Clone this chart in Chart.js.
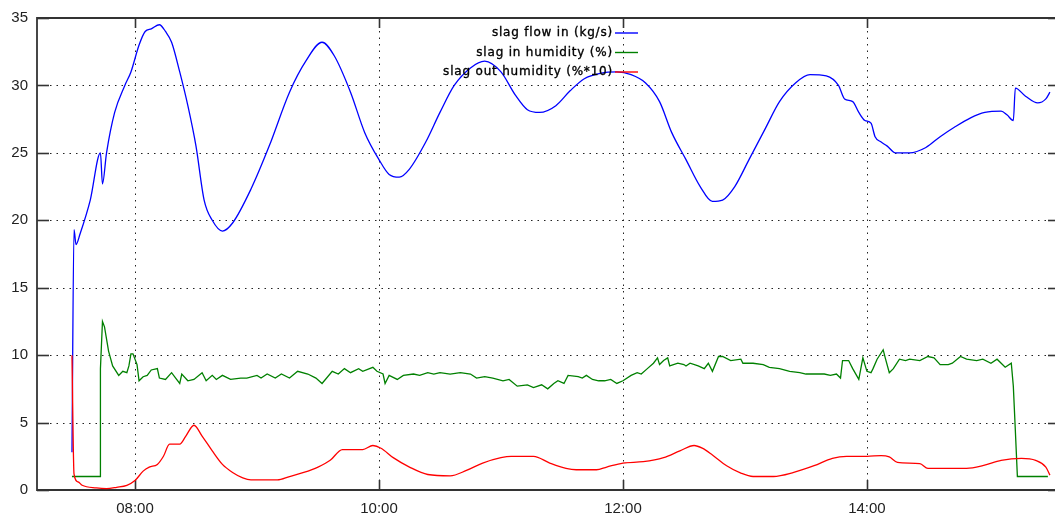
<!DOCTYPE html>
<html>
<head>
<meta charset="utf-8">
<script src="https://cdn.jsdelivr.net/npm/chart.js@4.4.1/dist/chart.umd.min.js"></script>
<style>
  html, body { margin: 0; padding: 0; background: #fff; }
  #wrap { width: 1055px; height: 515px; }
</style>
</head>
<body>
<div id="wrap"><canvas id="chart"></canvas></div>
<script>
// time axis (minutes since midnight) and y range
const xStart = 431.8;
const xEnd = 932.5;
const xTickTimes = ['08:00', '10:00', '12:00', '14:00'];

const seriesLabels = ['slag flow in (kg/s)', 'slag in humidity (%)', 'slag out humidity (%*10)'];
const seriesColors = ['#0000ff', '#008000', '#ff0000'];

const blueTimes = ['07:29','07:30','07:31','07:33','07:38','07:43','07:44','07:46','07:50','07:55',
  '07:58','08:02','08:05','08:08','08:12','08:15','08:18','08:22','08:26','08:30',
  '08:34','08:38','08:43','08:48','08:57','09:06','09:16','09:24','09:32','09:38',
  '09:46','09:53','10:00','10:05','10:10','10:15','10:23','10:30','10:37','10:45',
  '10:52','11:00','11:07','11:13','11:19','11:27','11:34','11:41','11:49','11:57',
  '12:04','12:11','12:18','12:24','12:31','12:38','12:44','12:49','12:55','13:02',
  '13:10','13:17','13:25','13:32','13:40','13:46','13:49','13:53','13:56','13:59',
  '14:02','14:04','14:07','14:10','14:14','14:21','14:29','14:36','14:43','14:51',
  '14:58','15:06','15:09','15:12','15:13','15:18','15:24','15:28','15:30'];
const blueValues = [2.8,19.3,18.2,19.0,21.5,25.0,22.7,25.0,28.0,30.0,
  31.0,33.0,34.0,34.2,34.5,34.0,33.2,31.0,28.5,25.5,
  21.5,20.0,19.2,19.8,22.3,25.5,29.5,31.8,33.2,32.2,
  29.5,26.5,24.5,23.4,23.2,23.8,25.8,28.0,30.0,31.3,
  31.8,31.0,29.3,28.2,28.0,28.5,29.6,30.5,30.9,31.0,
  30.8,30.2,28.8,26.5,24.5,22.5,21.4,21.5,22.5,24.5,
  26.8,28.8,30.2,30.8,30.7,30.0,29.0,28.8,28.0,27.4,
  27.2,26.2,25.8,25.5,25.0,25.0,25.4,26.2,26.9,27.6,
  28.0,28.1,27.8,27.4,29.8,29.2,28.7,29.0,29.5];

const greenTimes = ['07:29','07:43','07:43','07:44','07:45','07:47','07:49','07:52','07:54','07:56',
  '07:57','07:58','07:59','08:01','08:02','08:04','08:06','08:08','08:11','08:12',
  '08:15','08:18','08:20','08:22','08:23','08:26','08:29','08:33','08:35','08:38',
  '08:40','08:43','08:47','08:52','08:55','09:00','09:02','09:05','09:09','09:12',
  '09:16','09:20','09:25','09:29','09:32','09:37','09:40','09:43','09:46','09:50',
  '09:52','09:57','09:59','10:02','10:03','10:05','10:09','10:12','10:17','10:20',
  '10:24','10:27','10:30','10:35','10:40','10:45','10:48','10:52','10:56','11:01',
  '11:04','11:08','11:13','11:16','11:20','11:23','11:26','11:28','11:31','11:33',
  '11:38','11:40','11:42','11:45','11:48','11:51','11:54','11:57','12:00','12:04',
  '12:07','12:09','12:12','12:15','12:17','12:18','12:20','12:22','12:23','12:27',
  '12:30','12:31','12:33','12:37','12:40','12:42','12:44','12:47','12:49','12:53',
  '12:58','12:59','13:04','13:09','13:12','13:17','13:22','13:27','13:30','13:34',
  '13:39','13:42','13:45','13:47','13:48','13:51','13:53','13:56','13:58','14:00',
  '14:02','14:03','14:05','14:08','14:09','14:11','14:13','14:16','14:19','14:21',
  '14:26','14:30','14:33','14:36','14:40','14:42','14:46','14:49','14:54','14:57',
  '15:01','15:04','15:08','15:11','15:12','15:13','15:14','15:29'];
const greenValues = [1.0,1.0,9.0,12.5,12.1,10.3,9.2,8.5,8.8,8.7,
  9.2,10.1,10.1,9.3,8.1,8.4,8.5,8.9,9.0,8.3,
  8.2,8.7,8.3,7.9,8.6,8.1,8.2,8.7,8.1,8.5,
  8.2,8.5,8.2,8.3,8.3,8.5,8.3,8.6,8.3,8.6,
  8.3,8.8,8.6,8.3,7.9,8.8,8.6,9.0,8.7,9.0,
  8.8,9.1,8.8,8.6,7.9,8.5,8.2,8.5,8.6,8.5,
  8.7,8.6,8.7,8.6,8.7,8.6,8.3,8.4,8.3,8.1,
  8.2,7.7,7.8,7.6,7.8,7.5,7.9,8.1,7.9,8.5,
  8.4,8.3,8.5,8.2,8.1,8.1,8.2,7.9,8.1,8.5,
  8.7,8.6,9.0,9.4,9.8,9.3,9.6,9.8,9.2,9.4,
  9.3,9.2,9.4,9.2,9.0,9.4,8.8,9.9,9.9,9.6,
  9.7,9.4,9.4,9.3,9.1,9.0,8.8,8.7,8.6,8.6,
  8.6,8.5,8.6,8.3,9.6,9.6,9.0,8.2,9.8,8.8,
  8.7,9.0,9.7,10.4,9.8,8.7,9.0,9.7,9.6,9.7,
  9.6,9.9,9.8,9.3,9.3,9.4,9.9,9.7,9.6,9.7,
  9.4,9.7,9.1,9.4,7.7,4.4,1.0,1.0];

const redTimes = ['07:29','07:30','07:32','07:34','07:41','07:46','07:51','07:56','08:00','08:04',
  '08:07','08:11','08:14','08:17','08:22','08:25','08:29','08:33','08:38','08:43',
  '08:48','08:53','08:57','09:10','09:16','09:23','09:30','09:36','09:42','09:52',
  '09:57','10:01','10:07','10:15','10:24','10:35','10:43','10:51','11:00','11:05',
  '11:16','11:24','11:32','11:37','11:47','11:52','12:00','12:10','12:20','12:28',
  '12:35','12:39','12:44','12:51','12:58','13:04','13:14','13:24','13:34','13:43',
  '13:50','14:00','14:07','14:11','14:15','14:26','14:30','14:49','14:57','15:06',
  '15:16','15:23','15:28','15:30'];
const redValues = [10.0,1.2,0.6,0.35,0.15,0.1,0.2,0.35,0.7,1.4,
  1.7,1.9,2.5,3.4,3.4,4.0,4.8,4.0,2.9,1.9,
  1.3,0.9,0.75,0.75,1.0,1.3,1.7,2.2,3.0,3.0,
  3.3,3.1,2.4,1.7,1.15,1.05,1.45,2.0,2.4,2.5,
  2.5,2.0,1.6,1.5,1.5,1.7,2.0,2.1,2.4,2.9,
  3.3,3.1,2.6,1.8,1.25,1.0,1.0,1.3,1.8,2.35,
  2.5,2.5,2.55,2.45,2.05,1.95,1.6,1.6,1.8,2.2,
  2.35,2.2,1.7,1.1];

const toMin = s => { const [h, m] = s.split(':'); return +h * 60 + +m; };
const fmtTime = v => {
  const h = Math.floor(v / 60), m = Math.round(v % 60);
  return String(h).padStart(2, '0') + ':' + String(m).padStart(2, '0');
};
const zip = (ts, vs) => ts.map((t, i) => ({ x: toMin(t), y: vs[i] }));

// gnuplot-like frame, dotted grid and inward ticks
const framePlugin = {
  id: 'frame',
  beforeDatasetsDraw(chart) {
    const { ctx, chartArea: a, scales: { x, y } } = chart;
    ctx.save();
    ctx.strokeStyle = '#222';
    ctx.lineWidth = 1;
    ctx.setLineDash([1.5, 5]);
    y.ticks.forEach(t => {
      if (t.value <= y.min || t.value >= y.max) return;
      const py = Math.round(y.getPixelForValue(t.value)) + 0.5;
      ctx.beginPath(); ctx.moveTo(a.left, py); ctx.lineTo(a.right, py); ctx.stroke();
    });
    x.ticks.forEach(t => {
      const px = Math.round(x.getPixelForValue(t.value)) + 0.5;
      ctx.beginPath(); ctx.moveTo(px, a.top); ctx.lineTo(px, a.bottom); ctx.stroke();
    });
    ctx.setLineDash([]);
    ctx.strokeStyle = '#333';
    ctx.lineWidth = 1.6;
    y.ticks.forEach(t => {
      const py = Math.round(y.getPixelForValue(t.value)) + 0.5;
      ctx.beginPath(); ctx.moveTo(a.left, py); ctx.lineTo(a.left + 12, py); ctx.stroke();
      ctx.beginPath(); ctx.moveTo(a.right - 7, py); ctx.lineTo(a.right, py); ctx.stroke();
    });
    x.ticks.forEach(t => {
      const px = Math.round(x.getPixelForValue(t.value)) + 0.5;
      ctx.beginPath(); ctx.moveTo(px, a.bottom); ctx.lineTo(px, a.bottom - 10); ctx.stroke();
      ctx.beginPath(); ctx.moveTo(px, a.top); ctx.lineTo(px, a.top + 10); ctx.stroke();
    });
    ctx.lineWidth = 1.8;
    ctx.strokeStyle = '#333';
    ctx.beginPath();
    ctx.moveTo(a.right, a.top);
    ctx.lineTo(a.left, a.top);
    ctx.lineTo(a.left, a.bottom);
    ctx.lineTo(a.right, a.bottom);
    ctx.stroke();
    ctx.restore();
  },
  afterDatasetsDraw(chart) {
    // legend: text right-aligned, sample line to the right
    const { ctx } = chart;
    ctx.save();
    ctx.font = '12px "DejaVu Sans"';
    ctx.letterSpacing = '0.8px';
    ctx.fillStyle = '#000';
    ctx.strokeStyle = '#000';
    ctx.textAlign = 'right';
    ctx.textBaseline = 'middle';
    chart.data.datasets.forEach((ds, i) => {
      const ly = 33 + i * 19.5;
      ctx.fillText(ds.label, 613, ly);
      ctx.lineWidth = 0.35;
      ctx.strokeText(ds.label, 613, ly);
      ctx.strokeStyle = ds.borderColor;
      ctx.lineWidth = 1.4;
      ctx.beginPath(); ctx.moveTo(615, ly); ctx.lineTo(638, ly); ctx.stroke();
      ctx.strokeStyle = '#000';
    });
    ctx.restore();
  }
};

new Chart(document.getElementById('chart'), {
  type: 'line',
  data: {
    datasets: [
      { label: seriesLabels[0], data: zip(blueTimes, blueValues), borderColor: seriesColors[0], order: 3,
        cubicInterpolationMode: 'monotone' },
      { label: seriesLabels[1], data: zip(greenTimes, greenValues), borderColor: seriesColors[1], order: 2 },
      { label: seriesLabels[2], data: zip(redTimes, redValues), borderColor: seriesColors[2], order: 1,
        cubicInterpolationMode: 'monotone' }
    ]
  },
  options: {
    responsive: true,
    maintainAspectRatio: false,
    animation: false,
    layout: { padding: { top: 14, right: 0, left: 0, bottom: 0 } },
    elements: {
      point: { radius: 0 },
      line: { borderWidth: 1.3, tension: 0, fill: false }
    },
    plugins: { legend: { display: false }, tooltip: { enabled: false } },
    scales: {
      x: {
        type: 'linear',
        min: xStart,
        max: xEnd,
        grid: { display: false },
        border: { display: false },
        afterBuildTicks: s => { s.ticks = xTickTimes.map(t => ({ value: toMin(t) })); },
        afterFit: s => { s.height = 25; },
        ticks: {
          autoSkip: false,
          maxRotation: 0,
          padding: 2,
          color: '#222',
          font: { family: '"Liberation Sans", Arial', size: 15 },
          callback: v => fmtTime(v)
        }
      },
      y: {
        min: 0,
        max: 35,
        grid: { display: false, drawTicks: false },
        border: { display: false },
        afterFit: s => { s.width = 37; },
        ticks: {
          stepSize: 5,
          padding: 9,
          color: '#222',
          font: { family: '"Liberation Sans", Arial', size: 15 }
        }
      }
    }
  },
  plugins: [framePlugin]
});
</script>
</body>
</html>
